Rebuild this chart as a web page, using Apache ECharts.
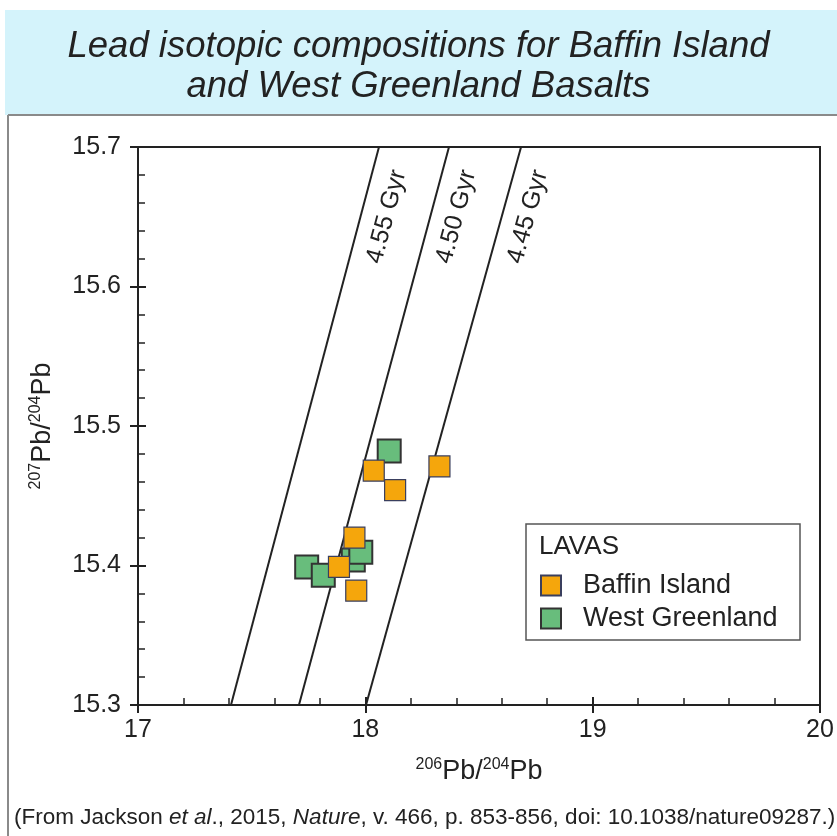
<!DOCTYPE html>
<html>
<head>
<meta charset="utf-8">
<title>Lead isotopic compositions for Baffin Island and West Greenland Basalts</title>
<script src="https://cdn.jsdelivr.net/npm/echarts@6/dist/echarts.min.js"></script>
<style>
  html, body { margin: 0; padding: 0; background: #ffffff; }
  #chart { width: 837px; height: 836px; }
</style>
</head>
<body>
<div id="chart"></div>
<script>
// 206Pb/204Pb (x) and 207Pb/204Pb (y) for each lava sample
const baffinX = [18.037, 18.131, 18.326, 17.952, 17.884, 17.960];
const baffinY = [15.468, 15.454, 15.471, 15.420, 15.399, 15.382];
const greenlandX = [18.105, 17.947, 17.980, 17.742, 17.815];
const greenlandY = [15.482, 15.404, 15.4095, 15.399, 15.393];

// Geochrons: 206Pb/204Pb where each line meets the bottom and top of the axis
const geochronAges = ['4.55 Gyr', '4.50 Gyr', '4.45 Gyr'];
const geochronBottomX = [17.409, 17.708, 18.003];
const geochronTopX = [18.060, 18.368, 18.685];

// Axis ranges and tick labels
const xRange = [17, 20];
const yRange = [15.3, 15.7];
const xTicks = [17, 18, 19, 20];
const yTicks = [15.3, 15.4, 15.5, 15.6, 15.7];

const FONT = '"Liberation Sans", Arial, Helvetica, sans-serif';
const INK = '#222222';
const ORANGE = '#f5a60c';
const GREEN = '#68bd7c';

const chart = echarts.init(document.getElementById('chart'), null, { renderer: 'canvas' });

const pairs = (xs, ys) => xs.map((x, i) => [x, ys[i]]);

// Geochron line series
const geochronSeries = geochronAges.map((age, i) => ({
  name: age,
  type: 'line',
  data: [[geochronBottomX[i], yRange[0]], [geochronTopX[i], yRange[1]]],
  symbol: 'none',
  silent: true,
  lineStyle: { color: INK, width: 2 },
  z: 2
}));

const axisNameRich = {
  b: { fontSize: 27, fontFamily: FONT, color: INK, lineHeight: 30 },
  sup: { fontSize: 16, fontFamily: FONT, color: INK, verticalAlign: 'top', lineHeight: 15 }
};

const frameGraphics = [
  { type: 'rect', shape: { x: 5, y: 10, width: 832, height: 105 }, style: { fill: '#d4f3fb' }, silent: true },
  { type: 'line', shape: { x1: 8, y1: 115, x2: 837, y2: 115 }, style: { stroke: '#8a8a8a', lineWidth: 2 }, silent: true },
  { type: 'line', shape: { x1: 8, y1: 115, x2: 8, y2: 836 }, style: { stroke: '#8a8a8a', lineWidth: 2 }, silent: true },
  // legend frame and heading
  { type: 'rect', shape: { x: 526, y: 524, width: 274, height: 116 }, style: { fill: '#ffffff', stroke: '#555555', lineWidth: 1.5 }, z: 5, silent: true },
  { type: 'text', left: 539, top: 534, style: { text: 'LAVAS', font: '26px ' + FONT, fill: INK }, z: 6, silent: true },
  // source line
  {
    type: 'text', left: 14, top: 806, silent: true,
    style: {
      text: '{n|(From Jackson }{i|et al}{n|., 2015, }{i|Nature}{n|, v. 466, p. 853-856, doi: 10.1038/nature09287.)}',
      rich: {
        n: { fontSize: 22.5, fontFamily: FONT, fill: INK },
        i: { fontSize: 22.5, fontFamily: FONT, fontStyle: 'italic', fill: INK }
      }
    }
  }
];

const option = {
  backgroundColor: '#ffffff',
  animation: false,
  title: {
    text: 'Lead isotopic compositions for Baffin Island\nand West Greenland Basalts',
    left: 'center',
    top: 22,
    textStyle: {
      fontFamily: FONT,
      fontStyle: 'italic',
      fontWeight: 'normal',
      fontSize: 36.5,
      lineHeight: 40,
      color: INK
    }
  },
  graphic: frameGraphics,
  legend: {
    orient: 'vertical',
    left: 540,
    top: 572,
    padding: 0,
    itemGap: 6,
    itemWidth: 20,
    itemHeight: 20,
    icon: 'rect',
    z: 7,
    data: ['Baffin Island', 'West Greenland'],
    textStyle: { fontSize: 27, fontFamily: FONT, color: INK, padding: [0, 0, 0, 17] }
  },
  grid: {
    left: 138, right: 17, top: 147, bottom: 131,
    show: true, borderColor: INK, borderWidth: 2, backgroundColor: 'transparent'
  },
  xAxis: [
    {
      type: 'value', min: xRange[0], max: xRange[1], interval: 1, position: 'bottom',
      axisLine: { lineStyle: { color: INK, width: 2 } },
      axisTick: { inside: false, length: 8, lineStyle: { color: INK, width: 2 } },
      axisLabel: {
        fontSize: 25, fontFamily: FONT, color: INK, margin: 13,
        formatter: v => (xTicks.includes(v) ? String(v) : '')
      },
      splitLine: { show: false },
      name: '{sup|206}{b|Pb/}{sup|204}{b|Pb}',
      nameLocation: 'middle',
      nameGap: 52,
      nameTextStyle: { rich: axisNameRich }
    },
    {
      type: 'value', min: xRange[0], max: xRange[1], interval: 1, position: 'bottom',
      axisLine: { show: false },
      axisTick: { inside: true, length: 8, lineStyle: { color: INK, width: 2 } },
      minorTick: { show: true, splitNumber: 5, length: 7, lineStyle: { color: INK, width: 1.5 } },
      axisLabel: { show: false },
      splitLine: { show: false }
    }
  ],
  yAxis: [
    {
      type: 'value', min: yRange[0], max: yRange[1], interval: 0.1, position: 'left',
      axisLine: { lineStyle: { color: INK, width: 2 } },
      axisTick: { inside: false, length: 8, lineStyle: { color: INK, width: 2 } },
      axisLabel: {
        fontSize: 25, fontFamily: FONT, color: INK, margin: 17,
        formatter: v => {
          const t = yTicks.find(k => Math.abs(k - v) < 1e-6);
          return t === undefined ? '' : t.toFixed(1);
        }
      },
      splitLine: { show: false },
      name: '{sup|207}{b|Pb/}{sup|204}{b|Pb}',
      nameLocation: 'middle',
      nameRotate: 90,
      nameGap: 80,
      nameTextStyle: { rich: axisNameRich }
    },
    {
      type: 'value', min: yRange[0], max: yRange[1], interval: 0.1, position: 'left',
      axisLine: { show: false },
      axisTick: { inside: true, length: 8, lineStyle: { color: INK, width: 2 } },
      minorTick: { show: true, splitNumber: 5, length: 7, lineStyle: { color: INK, width: 1.5 } },
      axisLabel: { show: false },
      splitLine: { show: false }
    }
  ],
  series: [
    ...geochronSeries,
    {
      name: 'West Greenland',
      type: 'scatter',
      data: pairs(greenlandX, greenlandY),
      symbol: 'rect',
      symbolSize: 23,
      itemStyle: { color: GREEN, borderColor: '#333333', borderWidth: 2, opacity: 1 },
      z: 4
    },
    {
      name: 'Baffin Island',
      type: 'scatter',
      data: pairs(baffinX, baffinY),
      symbol: 'rect',
      symbolSize: 21,
      itemStyle: { color: ORANGE, borderColor: '#3a3f5e', borderWidth: 1.2, opacity: 1 },
      z: 5
    }
  ]
};

chart.setOption(option);

// Age labels run alongside each geochron, turned to the line's on-screen angle
const labelY = 15.65;
const labelShiftX = 0.115;
const toPx = v => chart.convertToPixel({ xAxisIndex: 0, yAxisIndex: 0 }, v);
const ageLabels = geochronAges.map((age, i) => {
  const p0 = toPx([geochronBottomX[i], yRange[0]]);
  const p1 = toPx([geochronTopX[i], yRange[1]]);
  const angle = Math.atan2(p0[1] - p1[1], p1[0] - p0[0]);
  const t = (labelY - yRange[0]) / (yRange[1] - yRange[0]);
  const xOnLine = geochronBottomX[i] + (geochronTopX[i] - geochronBottomX[i]) * t;
  const c = toPx([xOnLine + labelShiftX, labelY]);
  return {
    type: 'text', x: c[0], y: c[1], rotation: angle, silent: true, z: 3,
    style: { text: age, font: '25px ' + FONT, fill: INK, align: 'center', verticalAlign: 'middle' }
  };
});
chart.setOption({ graphic: frameGraphics.concat(ageLabels) });
</script>
</body>
</html>
